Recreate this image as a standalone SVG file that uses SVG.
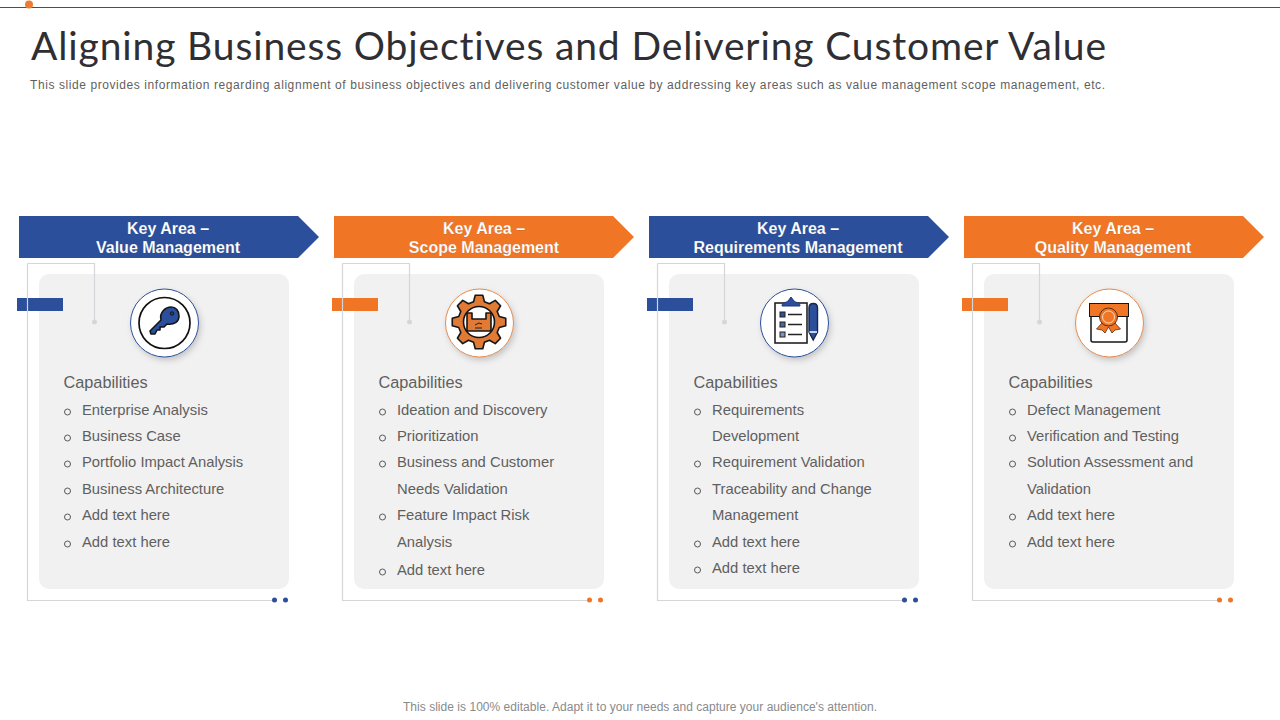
<svg xmlns="http://www.w3.org/2000/svg" width="1280" height="720" viewBox="0 0 1280 720">
<style>
text{font-family:"Liberation Sans",Arial,sans-serif;font-variant-ligatures:none}
.title{font-family:Lato,"Liberation Sans",sans-serif;font-size:39px;fill:#2f2f33;font-weight:400}
.sub{font-size:12px;fill:#5f5f5f}
.foot{font-size:12px;fill:#8a8a8a}
.head{font-size:16px;font-weight:700;fill:#fff;text-anchor:middle;stroke:#333;stroke-width:.25;stroke-opacity:.4}
.cap{font-size:16.3px;fill:#5f5f5f}
.it{font-size:14.8px;fill:#5f5f5f}
.bu{fill:none;stroke:#595959;stroke-width:1}
.card{fill:#f1f1f1}
.frame{fill:none;stroke:#d4d6da;stroke-width:1.200}
.knob{fill:#d4d6da}
.ic{fill:#fff;filter:url(#sh)}
.ink{stroke:#161616;stroke-width:1.600;stroke-linejoin:round;stroke-linecap:round}
.b{fill:#2b4f9b}.o{fill:#f07525}
</style>
<defs>
<filter id="sh" x="-30%" y="-30%" width="170%" height="170%"><feDropShadow dx="2" dy="3" stdDeviation="3" flood-color="#000" flood-opacity=".2"/></filter>
<g id="fr">
<rect class="card" x="39" y="274" width="250" height="315" rx="10"/>
<path class="frame" d="M27.500 263.500H94.500V322M27.500 263.500V600.500H272"/>
<circle class="knob" cx="94.500" cy="322" r="2.500"/>
</g>
</defs>
<rect width="1280" height="720" fill="#fff"/>
<g id="top-rule"><rect x="0" y="7" width="1280" height="1" fill="#3b5170"/><circle cx="29" cy="4.500" r="4" fill="#ee7b2f"/></g>
<text class="title" x="31" y="60" textLength="1075" lengthAdjust="spacing">Aligning Business Objectives and Delivering Customer Value</text>
<text class="sub" x="30" y="89" textLength="1075" lengthAdjust="spacing">This slide provides  information  regarding  alignment  of business objectives  and delivering  customer value  by addressing key areas  such as value  management  scope management,  etc.</text>

<g id="node-value">
<use href="#fr"/>
<rect class="b" x="17" y="298" width="46" height="13"/>
<path class="frame" d="M27.500 298V311"/>
<path class="b" d="M19 216H298L319 237L298 258H19Z"/>
<text class="head" x="168" y="233.500">Key Area –</text>
<text class="head" x="168" y="252.500">Value Management</text>
<circle class="ic" cx="164.500" cy="323" r="34"/>
<circle cx="164.500" cy="323" r="34" fill="none" stroke="#2b4f9b"/>
<circle cx="164.500" cy="323" r="25.500" fill="#fff" stroke="#111" stroke-width="1.700"/>
<path class="b ink" d="M150 331L161 320C159 312 166 307 171 307C176 307 179 311 179 316C179 322 174 325 167 324L164 327H160V330H157L155 334H151Z"/>
<circle cx="172" cy="313.500" r="1.800" fill="#1d3a78" stroke="#111" stroke-width=".8"/>
<text class="cap" x="63.500" y="388">Capabilities</text>
<circle class="bu" cx="67.500" cy="412" r="3"/><text class="it" x="82" y="415">Enterprise Analysis</text>
<circle class="bu" cx="67.500" cy="438" r="3"/><text class="it" x="82" y="441">Business Case</text>
<circle class="bu" cx="67.500" cy="464" r="3"/><text class="it" x="82" y="467">Portfolio Impact Analysis</text>
<circle class="bu" cx="67.500" cy="491" r="3"/><text class="it" x="82" y="494">Business Architecture</text>
<circle class="bu" cx="67.500" cy="517" r="3"/><text class="it" x="82" y="520">Add text here</text>
<circle class="bu" cx="67.500" cy="544" r="3"/><text class="it" x="82" y="547">Add text here</text>
<circle class="b" cx="274.500" cy="600" r="2.500"/><circle class="b" cx="285.500" cy="600" r="2.500"/>
</g>

<g id="node-scope">
<use href="#fr" x="315"/>
<rect class="o" x="332" y="298" width="46" height="13"/>
<path class="frame" d="M342.500 298V311"/>
<path class="o" d="M334 216H613L634 237L613 258H334Z"/>
<text class="head" x="484" y="233.500">Key Area –</text>
<text class="head" x="484" y="252.500">Scope Management</text>
<circle class="ic" cx="479.500" cy="323" r="34"/>
<circle cx="479.500" cy="323" r="34" fill="none" stroke="#e88a4c"/>
<g transform="translate(479 322)">
<polygon class="ink" fill="#e07a34" points="-5.440,-20.280 -3.760,-26.740 3.760,-26.740 5.440,-20.280 10.490,-18.190 16.250,-21.570 21.570,-16.250 18.190,-10.490 20.280,-5.440 26.740,-3.760 26.740,3.760 20.280,5.440 18.190,10.490 21.570,16.250 16.250,21.570 10.490,18.190 5.440,20.280 3.760,26.740 -3.760,26.740 -5.440,20.280 -10.490,18.190 -16.250,21.570 -21.570,16.250 -18.190,10.490 -20.280,5.440 -26.740,3.760 -26.740,-3.760 -20.280,-5.440 -18.190,-10.490 -21.570,-16.250 -16.250,-21.570 -10.490,-18.190"/>
<circle r="15.500" fill="#fff" stroke="#111" stroke-width="1.600"/>
<path class="ink" fill="#e07a34" d="M-12 -9H-7V-3H7V-9H12V9H-12Z" stroke-width="1.300"/>
<path d="M-4 3L0 1L3 2M-4 6H3" stroke="#222" fill="none" stroke-width="1"/>
</g>
<text class="cap" x="378.500" y="388">Capabilities</text>
<circle class="bu" cx="382.500" cy="412" r="3"/><text class="it" x="397" y="415">Ideation and Discovery</text>
<circle class="bu" cx="382.500" cy="438" r="3"/><text class="it" x="397" y="441">Prioritization</text>
<circle class="bu" cx="382.500" cy="464" r="3"/><text class="it" x="397" y="467">Business and Customer</text>
<text class="it" x="397" y="494">Needs Validation</text>
<circle class="bu" cx="382.500" cy="517" r="3"/><text class="it" x="397" y="520">Feature Impact Risk</text>
<text class="it" x="397" y="547">Analysis</text>
<circle class="bu" cx="382.500" cy="572" r="3"/><text class="it" x="397" y="575">Add text here</text>
<circle class="o" cx="589.500" cy="600" r="2.500"/><circle class="o" cx="600.500" cy="600" r="2.500"/>
</g>

<g id="node-requirements">
<use href="#fr" x="630"/>
<rect class="b" x="647" y="298" width="46" height="13"/>
<path class="frame" d="M657.500 298V311"/>
<path class="b" d="M649 216H928L949 237L928 258H649Z"/>
<text class="head" x="798" y="233.500">Key Area –</text>
<text class="head" x="798" y="252.500">Requirements Management</text>
<circle class="ic" cx="794.500" cy="323" r="34"/>
<circle cx="794.500" cy="323" r="34" fill="none" stroke="#2b4f9b"/>
<rect x="775" y="303" width="32" height="40" fill="#fff" stroke="#222" stroke-width="1.600"/>
<path class="b" d="M782 306C782 302 786 303 788 301L791 297L794 301C796 303 800 302 800 306Z" stroke="#1d3a78"/>
<rect x="780" y="312" width="5" height="5" fill="#2b4f9b" stroke="#222"/>
<rect x="780" y="322" width="5" height="5" fill="#4a669f" stroke="#222"/>
<rect x="780" y="332" width="5" height="5" fill="#8392b8" stroke="#222"/>
<path d="M788 314.500H802M788 324.500H802M788 334.500H802" stroke="#222" stroke-width="1.400"/>
<path class="b" d="M809 308C809 302 817.500 302 817.500 308V332L813.200 340L809 332Z" stroke="#16264d" stroke-width="1.400"/>
<path d="M809.500 332H817" stroke="#fff" stroke-width="1.500"/>
<text class="cap" x="693.500" y="388">Capabilities</text>
<circle class="bu" cx="697.500" cy="412" r="3"/><text class="it" x="712" y="415">Requirements</text>
<text class="it" x="712" y="441">Development</text>
<circle class="bu" cx="697.500" cy="464" r="3"/><text class="it" x="712" y="467">Requirement Validation</text>
<circle class="bu" cx="697.500" cy="491" r="3"/><text class="it" x="712" y="494">Traceability and Change</text>
<text class="it" x="712" y="520">Management</text>
<circle class="bu" cx="697.500" cy="544" r="3"/><text class="it" x="712" y="547">Add text here</text>
<circle class="bu" cx="697.500" cy="570" r="3"/><text class="it" x="712" y="573">Add text here</text>
<circle class="b" cx="904.500" cy="600" r="2.500"/><circle class="b" cx="915.500" cy="600" r="2.500"/>
</g>

<g id="node-quality">
<use href="#fr" x="945"/>
<rect class="o" x="962" y="298" width="46" height="13"/>
<path class="frame" d="M972.500 298V311"/>
<path class="o" d="M964 216H1243L1264 237L1243 258H964Z"/>
<text class="head" x="1113" y="233.500">Key Area –</text>
<text class="head" x="1113" y="252.500">Quality Management</text>
<circle class="ic" cx="1109.500" cy="323" r="34"/>
<circle cx="1109.500" cy="323" r="34" fill="none" stroke="#e88a4c"/>
<rect x="1091" y="305" width="36" height="37" rx="2" fill="#fff" stroke="#161616" stroke-width="1.500"/>
<rect x="1089.500" y="303.500" width="39" height="13" fill="#f07525" stroke="#161616" stroke-width="1"/>
<path class="o" d="M1103 322L1096.500 329L1102 330L1105 333L1108.500 327L1112 333L1115 330L1120.500 329L1114 322Z" stroke="#5a2c10" stroke-width=".8"/>
<circle cx="1108.500" cy="317" r="9" fill="#f07525" stroke="#5a2c10"/>
<circle cx="1108.500" cy="317" r="6" fill="#f07525" stroke="#fff" stroke-width=".7"/>
<text class="cap" x="1008.500" y="388">Capabilities</text>
<circle class="bu" cx="1012.500" cy="412" r="3"/><text class="it" x="1027" y="415">Defect Management</text>
<circle class="bu" cx="1012.500" cy="438" r="3"/><text class="it" x="1027" y="441">Verification and Testing</text>
<circle class="bu" cx="1012.500" cy="464" r="3"/><text class="it" x="1027" y="467">Solution Assessment and</text>
<text class="it" x="1027" y="494">Validation</text>
<circle class="bu" cx="1012.500" cy="517" r="3"/><text class="it" x="1027" y="520">Add text here</text>
<circle class="bu" cx="1012.500" cy="544" r="3"/><text class="it" x="1027" y="547">Add text here</text>
<circle class="o" cx="1219.500" cy="600" r="2.500"/><circle class="o" cx="1230.500" cy="600" r="2.500"/>
</g>
<text class="foot" x="403" y="711" textLength="474" lengthAdjust="spacing">This slide is 100% editable. Adapt it to your needs and capture your audience's attention.</text>
</svg>
